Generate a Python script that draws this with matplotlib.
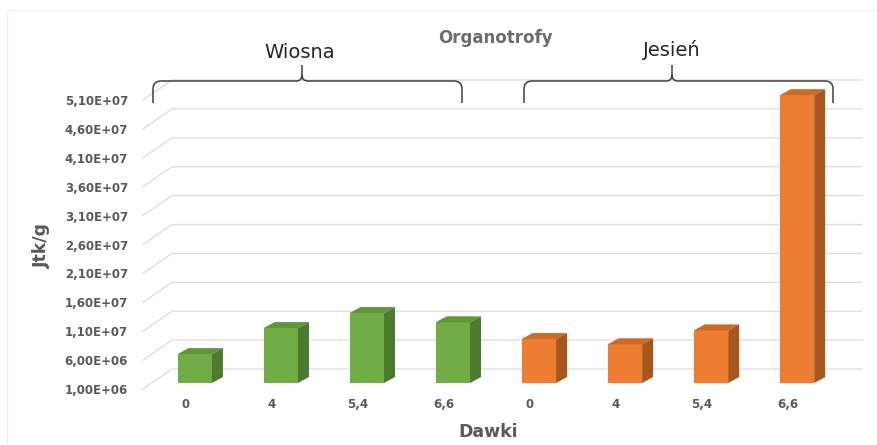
import matplotlib
matplotlib.use("Agg")
import matplotlib.pyplot as plt
import numpy as np
from matplotlib.patches import Polygon, PathPatch
from matplotlib.path import Path
from matplotlib.transforms import Affine2D, IdentityTransform, ScaledTranslation

# doses per season, counts in Jtk/g
doses = ["0", "4", "5,4", "6,6"]
seasons = ["Wiosna", "Jesień"]
wiosna = [6.0e6, 1.05e7, 1.31e7, 1.15e7]
jesien = [8.6e6, 7.7e6, 1.01e7, 5.08e7]
yticks = [1e6 + 5e6 * i for i in range(11)]

front_cols = {"Wiosna": "#70AD47", "Jesień": "#ED7D31"}
top_cols = {"Wiosna": "#5E9638", "Jesień": "#CF6A22"}
side_cols = {"Wiosna": "#4C7A2E", "Jesień": "#A8561C"}

W, H = 877, 445
fig = plt.figure(figsize=(W / 100, H / 100), dpi=100)
fig.patch.set_facecolor("white")
pix = Affine2D().scale(1, -1).translate(0, H)  # pixel coords, origin top-left

ax = fig.add_axes([150 / W, (H - 383) / H, 690 / W, 289 / H])
ax.set_xlim(-0.52, 7.5)
ax.set_ylim(1e6, 5.1e7)
for s in ax.spines.values():
    s.set_visible(False)
ax.patch.set_alpha(0)

# faint chart border
fig.add_artist(plt.Line2D([7, W], [10, 10], transform=pix, color="#f2f2f2", lw=1))
fig.add_artist(plt.Line2D([7, 7], [10, H], transform=pix, color="#f2f2f2", lw=1))

# back-wall gridlines with the short diagonal to the front edge
x_left = ax.transAxes.transform((0, 0))[0]
x_right = ax.transAxes.transform((1, 0))[0]
for v in yticks:
    yd = ax.transData.transform((0, v))[1]
    ax.add_line(plt.Line2D([x_left - 7, x_left + 22, x_right + 22],
                           [yd - 6, yd + 14, yd + 14],
                           transform=IdentityTransform(), color="#dcdcdc",
                           lw=0.9, clip_on=False, zorder=0))

# bars with a faux 3-D top and side
values = wiosna + jesien
groups = ["Wiosna"] * len(wiosna) + ["Jesień"] * len(jesien)
xs = np.arange(len(values))
bw = 0.4
dx, dy = 11, 6
ax.bar(xs, np.array(values) - 1e6, bottom=1e6, width=bw,
       color=[front_cols[g] for g in groups], zorder=3)
for x, v, g in zip(xs, values, groups):
    xl, yt = ax.transData.transform((x - bw / 2, v))
    xr, yb = ax.transData.transform((x + bw / 2, 1e6))
    top = Polygon([(xl, yt), (xr, yt), (xr + dx, yt + dy), (xl + dx, yt + dy)],
                  closed=True, transform=IdentityTransform(),
                  facecolor=top_cols[g], edgecolor="none", clip_on=False, zorder=3)
    side = Polygon([(xr, yb), (xr, yt), (xr + dx, yt + dy), (xr + dx, yb + dy)],
                   closed=True, transform=IdentityTransform(),
                   facecolor=side_cols[g], edgecolor="none", clip_on=False, zorder=3)
    ax.add_patch(top)
    ax.add_patch(side)

# tick labels
tick_font = dict(family="DejaVu Sans", weight="bold", size=8.5)
ax.set_yticks(yticks)
ax.set_yticklabels([f"{v:.2E}".replace(".", ",") for v in yticks], color="#595959", **tick_font)
ax.set_xticks(xs)
ax.set_xticklabels(doses * 2, color="#595959", **tick_font)
ax.tick_params(axis="y", length=0, pad=15.8)
ax.tick_params(axis="x", length=0, pad=11)
for lab in ax.get_yticklabels():
    lab.set_transform(lab.get_transform() + ScaledTranslation(0, -0.06, fig.dpi_scale_trans))
for lab in ax.get_xticklabels():
    lab.set_transform(lab.get_transform() + ScaledTranslation(-0.09, 0, fig.dpi_scale_trans))


def brace(x0, x1, xm, ytop, ybot, ypeak, r=8, rm=6):
    verts = [(x0, ybot), (x0, ytop + r), (x0, ytop), (x0 + r, ytop),
             (xm - rm, ytop), (xm, ytop), (xm, ytop - rm), (xm, ypeak),
             (xm, ytop - rm), (xm, ytop), (xm + rm, ytop),
             (x1 - r, ytop), (x1, ytop), (x1, ytop + r), (x1, ybot)]
    codes = [Path.MOVETO, Path.LINETO, Path.CURVE3, Path.CURVE3,
             Path.LINETO, Path.CURVE3, Path.CURVE3, Path.LINETO,
             Path.MOVETO, Path.CURVE3, Path.CURVE3,
             Path.LINETO, Path.CURVE3, Path.CURVE3, Path.LINETO]
    fig.add_artist(PathPatch(Path(verts, codes), transform=pix, facecolor="none",
                             edgecolor="#404040", lw=1.1))


brace(153, 462, 302, 81, 103, 65)
brace(524, 833, 672, 81, 103, 65)

fig.text(300, 52, seasons[0], transform=pix, ha="center", va="center",
         fontsize=14, color="#262626", family="DejaVu Sans")
fig.text(672, 50, seasons[1], transform=pix, ha="center", va="center",
         fontsize=14, color="#262626", family="DejaVu Sans")
fig.text(495, 38, "Organotrofy", transform=pix, ha="center", va="center",
         fontsize=12, weight="bold", color="#6b6b6b", family="DejaVu Sans")
fig.text(42, 245, "Jtk/g", transform=pix, ha="center", va="center", rotation=90,
         fontsize=12.5, weight="bold", color="#595959", family="DejaVu Sans")
fig.text(488, 432, "Dawki", transform=pix, ha="center", va="center",
         fontsize=12.5, weight="bold", color="#595959", family="DejaVu Sans")

fig.savefig("out.png", dpi=100, facecolor="white")
